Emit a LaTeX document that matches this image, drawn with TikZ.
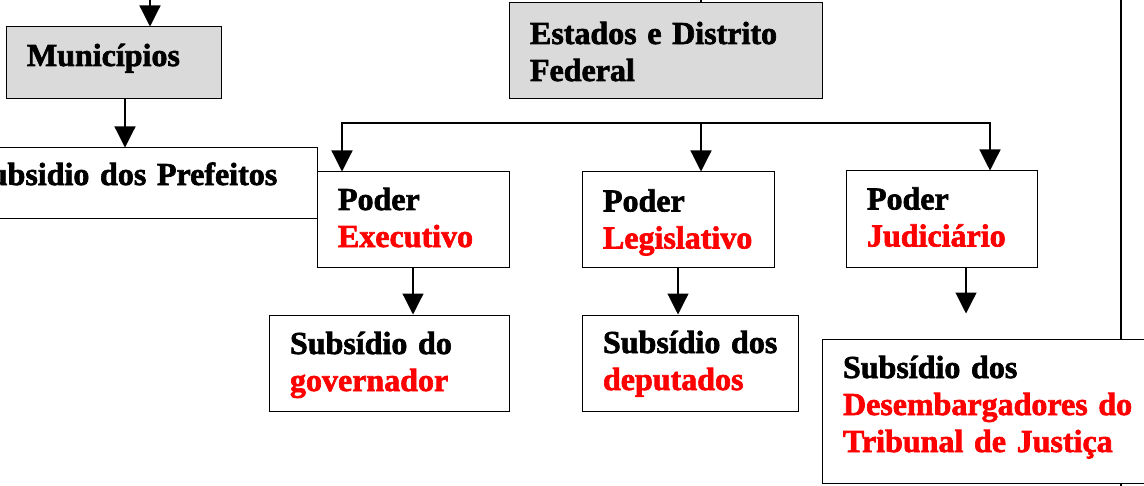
\documentclass[tikz,border=0pt]{standalone}
\usepackage{fontspec}
\setmainfont[BoldFeatures={FakeBold=2}]{Liberation Serif}
\usepackage{tikz}
\usetikzlibrary{arrows.meta,calc,positioning}
\definecolor{vermelho}{RGB}{255,0,0}
\definecolor{cinza}{RGB}{218,218,218}
\newcommand{\fontecaixa}{\fontsize{16pt}{18.5pt}\selectfont\bfseries}

\begin{document}
\begin{tikzpicture}[x=0.5pt,y=-0.5pt]
\tikzset{
    caixa/.style={draw, rectangle, fill=white, line width=0.5pt, align=left,
                  inner xsep=10.5pt, inner ysep=0pt, text height=11.5pt,
                  font=\fontecaixa},
    seta/.style={line width=0.6pt, -{Triangle[length=10.5pt,width=10.5pt]}}
}
\useasboundingbox (0,0) rectangle (1144,486);
\clip (0,0) rectangle (1144,486);

\node[caixa, fill=cinza, minimum width=107.5pt, minimum height=36pt,
      text width=86.5pt, text depth=8.5pt] (muni) at (113.5,63) {Municípios};
\node[caixa, fill=cinza, minimum width=156.5pt, minimum height=48pt,
      text width=135.5pt, text depth=18.5pt] (estados) at (665.5,51)
      {Estados e Distrito\\Federal};
\node[caixa, minimum width=183pt, minimum height=35.5pt,
      text width=162pt, text depth=10pt] (pref) at (134,183.5) {Subsidio dos Prefeitos};

\node[caixa, minimum width=96pt, minimum height=47.5pt,
      text width=75pt, text depth=21pt] (exec) at (413,219.5)
      {Poder\\\textcolor{vermelho}{Executivo}};
\node[caixa, minimum width=96pt, minimum height=47.5pt,
      text width=75pt, text depth=19.5pt] (legis) at (678,219.5)
      {Poder\\\textcolor{vermelho}{Legislativo}};
\node[caixa, minimum width=95.5pt, minimum height=48pt,
      text width=74.5pt, text depth=21pt] (judi) at (941.5,219)
      {Poder\\\textcolor{vermelho}{Judiciário}};

\node[caixa, minimum width=120pt, minimum height=48pt,
      text width=99pt, text depth=20.5pt] (gov) at (389,363)
      {Subsídio~do\\\textcolor{vermelho}{governador}};
\node[caixa, minimum width=108pt, minimum height=48pt,
      text width=87pt, text depth=21.5pt] (dep) at (690,363)
      {Subsídio~dos\\\textcolor{vermelho}{deputados}};
\node[caixa, minimum width=169pt, minimum height=72pt,
      text width=148pt, text depth=44.5pt] (desemb) at (991,411)
      {Subsídio~dos\\\textcolor{vermelho}{Desembargadores~do\\Tribunal de Justiça}};

\coordinate (m0) at ([xshift=18.25pt]muni.north);
\draw [seta] ($(m0)+(0,-40)$) -- (m0);
\coordinate (m1) at ([xshift=5.75pt]muni.south);
\draw [seta] (m1) -- (m1 |- pref.north);

\coordinate (e0) at ([xshift=17.75pt]estados.north);
\draw [line width=0.6pt] (e0) -- ++(0,-20);

\coordinate (barra) at (701,123);
\draw [seta] (barra) -| ([xshift=-35.5pt]exec.north);
\draw [seta] (barra) -- ([xshift=11.5pt]legis.north);
\draw [seta] (barra) -| ([xshift=24.25pt]judi.north);

\draw [seta] (exec.south) -- (exec.south |- gov.north);
\draw [seta] (legis.south) -- (legis.south |- dep.north);
\coordinate (j1) at ([xshift=12.25pt]judi.south);
\draw [seta] (j1) -- ($(j1 |- desemb.north)+(0,-25)$);

\coordinate (lado) at (1121,-10);
\draw [line width=1pt] (lado) -- (lado |- desemb.north);
\draw [line width=1pt] (desemb.south -| lado) -- ++(0,20);
\end{tikzpicture}
\end{document}
